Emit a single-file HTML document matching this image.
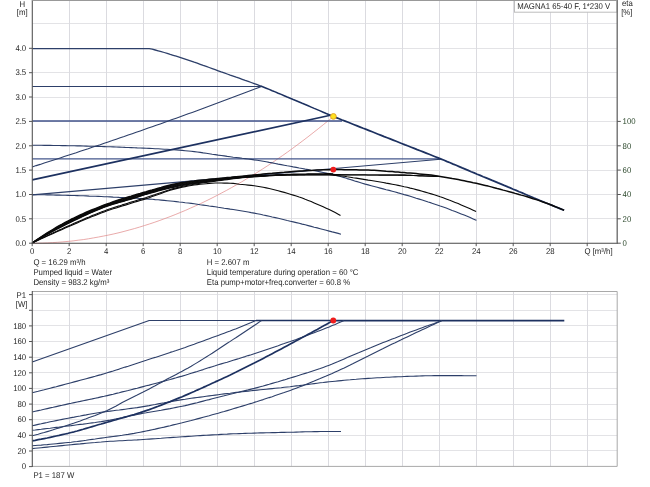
<!DOCTYPE html>
<html lang="en"><head><meta charset="utf-8"><title>MAGNA1 65-40 F pump curve</title>
<style>html,body{margin:0;padding:0;background:#fff;}body{width:650px;height:487px;overflow:hidden;font-family:"Liberation Sans",Arial,sans-serif;}svg{display:block;}</style>
</head><body>
<svg width="650" height="487" viewBox="0 0 650 487" font-family="'Liberation Sans', Arial, sans-serif" font-size="7.8" fill="#262626" text-rendering="geometricPrecision">
<rect width="650" height="487" fill="#fff"/>
<path d="M32.2,218.5H617.2 M32.2,194.5H617.2 M32.2,170.5H617.2 M32.2,145.5H617.2 M32.2,121.5H617.2 M32.2,97.5H617.2 M32.2,72.5H617.2 M32.2,48.5H617.2 M32.2,23.5H617.2 M32.2,450.5H617.2 M32.2,435.5H617.2 M32.2,419.5H617.2 M32.2,404.5H617.2 M32.2,388.5H617.2 M32.2,372.5H617.2 M32.2,357.5H617.2 M32.2,341.5H617.2 M32.2,325.5H617.2 M32.2,310.5H617.2 M32.2,294.5H617.2" stroke="#e3e3e6" stroke-width="1" fill="none"/>
<path d="M69.5,0.5V243 M69.5,291.5V466.5 M106.5,0.5V243 M106.5,291.5V466.5 M143.5,0.5V243 M143.5,291.5V466.5 M180.5,0.5V243 M180.5,291.5V466.5 M217.5,0.5V243 M217.5,291.5V466.5 M254.5,0.5V243 M254.5,291.5V466.5 M291.5,0.5V243 M291.5,291.5V466.5 M328.5,0.5V243 M328.5,291.5V466.5 M365.5,0.5V243 M365.5,291.5V466.5 M402.5,0.5V243 M402.5,291.5V466.5 M439.5,0.5V243 M439.5,291.5V466.5 M476.5,0.5V243 M476.5,291.5V466.5 M513.5,0.5V243 M513.5,291.5V466.5 M550.5,0.5V243 M550.5,291.5V466.5 M587.5,0.5V243 M587.5,291.5V466.5" stroke="#dbdbe0" stroke-width="1" fill="none"/>
<path d="M32.2,243.2 L37.3,243.2 L42.4,243.1 L47.5,242.9 L52.6,242.6 L57.7,242.3 L62.8,241.9 L68.0,241.4 L73.1,240.9 L78.2,240.2 L83.3,239.6 L88.4,238.8 L93.5,237.9 L98.6,237.0 L103.7,236.0 L108.8,235.0 L113.9,233.9 L119.0,232.7 L124.1,231.4 L129.2,230.0 L134.4,228.6 L139.5,227.1 L144.6,225.5 L149.7,223.9 L154.8,222.2 L159.9,220.4 L165.0,218.5 L170.1,216.6 L175.2,214.6 L180.3,212.5 L185.4,210.4 L190.5,208.1 L195.7,205.8 L200.8,203.5 L205.9,201.0 L211.0,198.5 L216.1,195.9 L221.2,193.2 L226.3,190.5 L231.4,187.7 L236.5,184.8 L241.6,181.9 L246.7,178.8 L251.8,175.7 L256.9,172.6 L262.1,169.3 L267.2,166.0 L272.3,162.6 L277.4,159.1 L282.5,155.6 L287.6,152.0 L292.7,148.3 L297.8,144.5 L302.9,140.7 L308.0,136.8 L313.1,132.8 L318.2,128.8 L323.3,124.7 L328.5,120.5 L333.6,116.2" fill="none" stroke="#e08585" stroke-width="0.7" stroke-linejoin="round" />
<path d="M32.2,86.5 L260.8,86.5" fill="none" stroke="#2d3f69" stroke-width="1.0" stroke-linejoin="round" />
<path d="M32.2,120.9 L342.0,120.9" fill="none" stroke="#40528a" stroke-width="1.5" stroke-linejoin="round" />
<path d="M32.2,158.9 L440.5,158.9" fill="none" stroke="#45578c" stroke-width="1.3" stroke-linejoin="round" />
<path d="M32.2,166.9 L36.2,165.6 L40.2,164.4 L44.2,163.1 L48.2,161.8 L52.2,160.5 L56.2,159.2 L60.2,157.9 L64.2,156.6 L68.2,155.3 L72.2,154.0 L76.2,152.7 L80.2,151.3 L84.2,150.0 L88.2,148.7 L92.2,147.3 L96.2,146.0 L100.2,144.7 L104.2,143.3 L108.2,141.9 L112.2,140.6 L116.2,139.2 L120.2,137.8 L124.2,136.5 L128.2,135.1 L132.2,133.7 L136.2,132.3 L140.2,130.9 L144.2,129.5 L148.2,128.1 L152.2,126.7 L156.2,125.3 L160.2,123.9 L164.2,122.5 L168.2,121.0 L172.2,119.6 L176.2,118.2 L180.2,116.7 L184.2,115.3 L188.2,113.8 L192.2,112.4 L196.2,110.9 L200.2,109.5 L204.2,108.0 L208.2,106.5 L212.2,105.0 L216.2,103.5 L220.2,102.1 L224.2,100.6 L228.2,99.1 L232.2,97.6 L236.2,96.1 L240.2,94.5 L244.2,93.0 L248.2,91.5 L252.2,90.0 L256.2,88.4 L260.2,86.9 L261.5,86.4" fill="none" stroke="#2d3f69" stroke-width="1.1" stroke-linejoin="round" />
<path d="M32.2,194.9 L440.5,159.2" fill="none" stroke="#2d3f69" stroke-width="1.1" stroke-linejoin="round" />
<path d="M32.2,145.3 L35.2,145.3 L38.2,145.3 L41.2,145.3 L44.2,145.4 L47.2,145.4 L50.2,145.4 L53.2,145.5 L56.2,145.5 L59.2,145.5 L62.2,145.6 L65.2,145.6 L68.2,145.7 L71.2,145.7 L74.2,145.8 L77.2,145.9 L80.2,145.9 L83.2,146.0 L86.2,146.1 L89.2,146.2 L92.2,146.3 L95.2,146.4 L98.2,146.4 L101.2,146.5 L104.2,146.6 L107.2,146.7 L110.2,146.8 L113.2,146.9 L116.2,147.0 L119.2,147.1 L122.2,147.2 L125.2,147.4 L128.2,147.5 L131.2,147.6 L134.2,147.7 L137.2,147.9 L140.2,148.0 L143.2,148.1 L146.2,148.3 L149.2,148.4 L152.2,148.5 L155.2,148.7 L158.2,148.8 L161.2,149.0 L164.2,149.2 L167.2,149.3 L170.2,149.5 L173.2,149.7 L176.2,149.9 L179.2,150.1 L182.2,150.4 L185.2,150.7 L188.2,151.0 L191.2,151.3 L194.2,151.6 L197.2,152.0 L200.2,152.4 L203.2,152.9 L206.2,153.3 L209.2,153.7 L212.2,154.2 L215.2,154.6 L218.2,155.1 L221.2,155.5 L224.2,155.9 L227.2,156.4 L230.2,156.8 L233.2,157.2 L236.2,157.5 L239.2,157.9 L242.2,158.3 L245.2,158.6 L248.2,159.0 L251.2,159.4 L254.2,159.9 L257.2,160.3 L260.2,160.8 L263.2,161.3 L266.2,161.8 L269.2,162.4 L272.2,162.9 L275.2,163.5 L278.2,164.1 L281.2,164.6 L284.2,165.2 L287.2,165.8 L290.2,166.3 L293.2,166.9 L296.2,167.4 L299.2,168.0 L302.2,168.5 L305.2,169.1 L308.2,169.6 L311.2,170.2 L314.2,170.7 L317.2,171.3 L320.2,171.9 L323.2,172.5 L326.2,173.1 L329.2,173.7 L332.2,174.4 L335.2,175.1 L338.2,175.9 L341.2,176.7 L344.2,177.6 L347.2,178.6 L350.2,179.5 L353.2,180.4 L356.2,181.4 L359.2,182.3 L362.2,183.2 L365.2,184.1 L368.2,184.9 L371.2,185.7 L374.2,186.5 L377.2,187.3 L380.2,188.1 L383.2,188.9 L386.2,189.7 L389.2,190.4 L392.2,191.2 L395.2,192.0 L398.2,192.9 L401.2,193.7 L404.2,194.6 L407.2,195.4 L410.2,196.3 L413.2,197.2 L416.2,198.2 L419.2,199.1 L422.2,200.0 L425.2,201.0 L428.2,202.0 L431.2,202.9 L434.2,203.9 L437.2,204.9 L440.2,206.0 L443.2,207.0 L446.2,208.1 L449.2,209.2 L452.2,210.4 L455.2,211.5 L458.2,212.7 L461.2,213.9 L464.2,215.1 L467.2,216.3 L470.2,217.6 L473.2,218.9 L476.2,220.2 L476.5,220.3" fill="none" stroke="#2d3f69" stroke-width="1.1" stroke-linejoin="round" />
<path d="M32.2,194.6 L35.2,194.6 L38.2,194.7 L41.2,194.7 L44.2,194.8 L47.2,194.9 L50.2,194.9 L53.2,195.0 L56.2,195.1 L59.2,195.1 L62.2,195.2 L65.2,195.3 L68.2,195.4 L71.2,195.5 L74.2,195.5 L77.2,195.6 L80.2,195.7 L83.2,195.8 L86.2,195.9 L89.2,196.1 L92.2,196.2 L95.2,196.3 L98.2,196.4 L101.2,196.5 L104.2,196.7 L107.2,196.8 L110.2,196.9 L113.2,197.1 L116.2,197.2 L119.2,197.4 L122.2,197.5 L125.2,197.7 L128.2,197.8 L131.2,198.0 L134.2,198.2 L137.2,198.3 L140.2,198.5 L143.2,198.7 L146.2,198.9 L149.2,199.1 L152.2,199.3 L155.2,199.6 L158.2,199.8 L161.2,200.1 L164.2,200.4 L167.2,200.7 L170.2,201.0 L173.2,201.3 L176.2,201.6 L179.2,202.0 L182.2,202.3 L185.2,202.7 L188.2,203.0 L191.2,203.4 L194.2,203.8 L197.2,204.2 L200.2,204.7 L203.2,205.1 L206.2,205.5 L209.2,206.0 L212.2,206.4 L215.2,206.8 L218.2,207.3 L221.2,207.7 L224.2,208.2 L227.2,208.6 L230.2,209.1 L233.2,209.5 L236.2,210.0 L239.2,210.5 L242.2,211.0 L245.2,211.5 L248.2,212.0 L251.2,212.6 L254.2,213.1 L257.2,213.7 L260.2,214.3 L263.2,215.0 L266.2,215.6 L269.2,216.3 L272.2,217.0 L275.2,217.6 L278.2,218.3 L281.2,219.0 L284.2,219.7 L287.2,220.5 L290.2,221.2 L293.2,221.9 L296.2,222.6 L299.2,223.3 L302.2,224.1 L305.2,224.8 L308.2,225.6 L311.2,226.4 L314.2,227.2 L317.2,227.9 L320.2,228.7 L323.2,229.5 L326.2,230.3 L329.2,231.1 L332.2,231.9 L335.2,232.6 L338.2,233.4 L341.0,234.2" fill="none" stroke="#2d3f69" stroke-width="1.1" stroke-linejoin="round" />
<path d="M32.2,48.6 L35.2,48.6 L38.2,48.6 L41.2,48.6 L44.2,48.6 L47.2,48.6 L50.2,48.6 L53.2,48.6 L56.2,48.6 L59.2,48.6 L62.2,48.6 L65.2,48.6 L68.2,48.6 L71.2,48.6 L74.2,48.6 L77.2,48.6 L80.2,48.6 L83.2,48.6 L86.2,48.6 L89.2,48.6 L92.2,48.6 L95.2,48.6 L98.2,48.6 L101.2,48.6 L104.2,48.6 L107.2,48.6 L110.2,48.6 L113.2,48.6 L116.2,48.6 L119.2,48.6 L122.2,48.6 L125.2,48.6 L128.2,48.6 L131.2,48.6 L134.2,48.6 L137.2,48.6 L140.2,48.6 L143.2,48.6 L146.2,48.6 L149.2,48.7 L152.2,49.2 L155.2,50.0 L158.2,50.8 L161.2,51.6 L164.2,52.5 L167.2,53.4 L170.2,54.4 L173.2,55.3 L176.2,56.2 L179.2,57.1 L182.2,58.1 L185.2,59.1 L188.2,60.1 L191.2,61.1 L194.2,62.2 L197.2,63.2 L200.2,64.3 L203.2,65.4 L206.2,66.4 L209.2,67.5 L212.2,68.6 L215.2,69.7 L218.2,70.8 L221.2,71.9 L224.2,72.9 L227.2,74.0 L230.2,75.1 L233.2,76.1 L236.2,77.2 L239.2,78.2 L242.2,79.3 L245.2,80.4 L248.2,81.4 L251.2,82.5 L254.2,83.6 L257.2,84.7 L260.2,85.8" fill="none" stroke="#2d3f69" stroke-width="1.3" stroke-linejoin="round" />
<path d="M260.2,85.8 L263.2,87.0 L266.2,88.2 L269.2,89.4 L272.2,90.7 L275.2,91.9 L278.2,93.2 L281.2,94.4 L284.2,95.7 L287.2,97.0 L290.2,98.2 L293.2,99.5 L296.2,100.7 L299.2,102.0 L302.2,103.3 L305.2,104.5 L308.2,105.8 L311.2,107.1 L314.2,108.4 L317.2,109.6 L320.2,110.9 L323.2,112.2 L326.2,113.5 L329.2,114.7 L332.2,116.0 L333.2,116.4" fill="none" stroke="#1d3160" stroke-width="1.5" stroke-linejoin="round" />
<path d="M333.2,116.4 L336.2,117.6 L339.2,118.8 L342.2,120.0 L345.2,121.1 L348.2,122.3 L351.2,123.5 L354.2,124.7 L357.2,125.9 L360.2,127.1 L363.2,128.3 L366.2,129.4 L369.2,130.6 L372.2,131.8 L375.2,133.0 L378.2,134.2 L381.2,135.4 L384.2,136.6 L387.2,137.7 L390.2,138.9 L393.2,140.1 L396.2,141.3 L399.2,142.5 L402.2,143.7 L405.2,144.9 L408.2,146.0 L411.2,147.2 L414.2,148.4 L417.2,149.6 L420.2,150.7 L423.2,151.9 L426.2,153.1 L429.2,154.3 L432.2,155.5 L435.2,156.7 L438.2,157.9 L441.2,159.1 L444.2,160.3 L447.2,161.6 L450.2,162.8 L453.2,164.1 L456.2,165.3 L459.2,166.6 L462.2,167.9 L465.2,169.1 L468.2,170.4 L471.2,171.7 L474.2,172.9 L477.2,174.2 L480.2,175.4 L483.2,176.7 L486.2,177.9 L489.2,179.1 L492.2,180.4 L495.2,181.6 L498.2,182.9 L501.2,184.1 L504.2,185.4 L507.2,186.6 L510.2,187.9 L513.2,189.2 L516.2,190.4 L519.2,191.7 L522.2,192.9 L525.2,194.2 L528.2,195.5 L531.2,196.7 L534.2,198.0 L537.2,199.2 L540.2,200.5 L543.2,201.7 L546.2,203.0 L549.2,204.2 L552.2,205.4 L555.2,206.7 L558.2,207.9 L561.2,209.1 L564.1,210.3" fill="none" stroke="#1d3160" stroke-width="1.7" stroke-linejoin="round" />
<path d="M32.2,179.9 L330.5,115.3" fill="none" stroke="#1d3160" stroke-width="1.6" stroke-linejoin="round" />
<path d="M32.2,243.0 L35.2,241.0 L38.2,239.0 L41.2,237.0 L44.2,235.1 L47.2,233.2 L50.2,231.4 L53.2,229.6 L56.2,227.8 L59.2,226.1 L62.2,224.5 L65.2,222.9 L68.2,221.3 L71.2,219.8 L74.2,218.3 L77.2,216.9 L80.2,215.5 L83.2,214.1 L86.2,212.8 L89.2,211.5 L92.2,210.2 L95.2,209.0 L98.2,207.8 L101.2,206.6 L104.2,205.5 L107.2,204.3 L110.2,203.3 L113.2,202.3 L116.2,201.3 L119.2,200.3 L122.2,199.3 L125.2,198.4 L128.2,197.5 L131.2,196.6 L134.2,195.7 L137.2,194.8 L140.2,193.9 L143.2,193.0 L146.2,192.2 L149.2,191.3 L152.2,190.4 L155.2,189.6 L158.2,188.7 L161.2,187.9 L164.2,187.0 L167.2,186.3 L170.2,185.5 L173.2,184.8 L176.2,184.2 L179.2,183.6 L182.2,183.1 L185.2,182.7 L188.2,182.2 L191.2,181.8 L194.2,181.4 L197.2,181.1 L200.2,180.7 L203.2,180.4 L206.2,180.0 L209.2,179.7 L212.2,179.4 L215.2,179.1 L218.2,178.8 L221.2,178.5 L224.2,178.2 L227.2,177.9 L230.2,177.6 L233.2,177.3 L236.2,177.0 L239.2,176.7 L242.2,176.4 L245.2,176.1 L248.2,175.9 L251.2,175.6 L254.2,175.3 L257.2,175.0 L260.2,174.8 L261.0,174.7" fill="none" stroke="#0a0a0a" stroke-width="1.05" stroke-linejoin="round" />
<path d="M32.2,243.0 L35.2,241.0 L38.2,239.1 L41.2,237.2 L44.2,235.3 L47.2,233.5 L50.2,231.7 L53.2,229.9 L56.2,228.2 L59.2,226.5 L62.2,224.9 L65.2,223.3 L68.2,221.8 L71.2,220.3 L74.2,218.8 L77.2,217.4 L80.2,216.0 L83.2,214.6 L86.2,213.2 L89.2,211.9 L92.2,210.6 L95.2,209.4 L98.2,208.2 L101.2,207.0 L104.2,205.9 L107.2,204.8 L110.2,203.7 L113.2,202.7 L116.2,201.7 L119.2,200.8 L122.2,199.9 L125.2,198.9 L128.2,198.0 L131.2,197.1 L134.2,196.2 L137.2,195.3 L140.2,194.4 L143.2,193.5 L146.2,192.6 L149.2,191.8 L152.2,190.9 L155.2,190.1 L158.2,189.2 L161.2,188.4 L164.2,187.6 L167.2,186.8 L170.2,186.1 L173.2,185.4 L176.2,184.7 L179.2,184.2 L182.2,183.6 L185.2,183.2 L188.2,182.7 L191.2,182.3 L194.2,181.9 L197.2,181.5 L200.2,181.1 L203.2,180.8 L206.2,180.4 L209.2,180.1 L212.2,179.8 L215.2,179.4 L218.2,179.1 L221.2,178.8 L224.2,178.4 L227.2,178.1 L230.2,177.8 L233.2,177.5 L236.2,177.2 L239.2,176.9 L242.2,176.7 L245.2,176.4 L248.2,176.1 L251.2,175.9 L254.2,175.6 L257.2,175.4 L260.2,175.1 L261.0,175.0" fill="none" stroke="#0a0a0a" stroke-width="1.05" stroke-linejoin="round" />
<path d="M32.2,243.0 L35.2,241.1 L38.2,239.2 L41.2,237.4 L44.2,235.5 L47.2,233.7 L50.2,232.0 L53.2,230.3 L56.2,228.6 L59.2,226.9 L62.2,225.3 L65.2,223.8 L68.2,222.3 L71.2,220.8 L74.2,219.3 L77.2,217.9 L80.2,216.4 L83.2,215.1 L86.2,213.7 L89.2,212.4 L92.2,211.1 L95.2,209.8 L98.2,208.6 L101.2,207.4 L104.2,206.3 L107.2,205.2 L110.2,204.1 L113.2,203.1 L116.2,202.2 L119.2,201.3 L122.2,200.4 L125.2,199.5 L128.2,198.6 L131.2,197.7 L134.2,196.8 L137.2,195.8 L140.2,194.9 L143.2,194.0 L146.2,193.1 L149.2,192.3 L152.2,191.4 L155.2,190.5 L158.2,189.7 L161.2,188.9 L164.2,188.1 L167.2,187.3 L170.2,186.6 L173.2,185.9 L176.2,185.3 L179.2,184.7 L182.2,184.2 L185.2,183.7 L188.2,183.2 L191.2,182.8 L194.2,182.3 L197.2,181.9 L200.2,181.6 L203.2,181.2 L206.2,180.8 L209.2,180.5 L212.2,180.1 L215.2,179.8 L218.2,179.4 L221.2,179.1 L224.2,178.7 L227.2,178.4 L230.2,178.1 L233.2,177.8 L236.2,177.5 L239.2,177.2 L242.2,177.0 L245.2,176.7 L248.2,176.5 L251.2,176.3 L254.2,176.1 L257.2,175.9 L260.2,175.8 L263.2,175.6 L266.2,175.4 L269.2,175.2 L272.2,175.0 L275.2,174.8 L278.2,174.7 L281.2,174.5 L284.2,174.4 L287.2,174.3 L290.2,174.2 L293.2,174.1 L296.2,174.1 L299.2,174.0 L302.2,173.9 L305.2,173.9 L308.2,173.8 L311.2,173.8 L314.2,173.8 L317.2,173.7 L320.2,173.7 L323.2,173.7 L326.2,173.6 L329.2,173.6 L332.2,173.7 L333.2,173.7" fill="none" stroke="#0a0a0a" stroke-width="1.05" stroke-linejoin="round" />
<path d="M32.2,243.0 L35.2,241.1 L38.2,239.3 L41.2,237.5 L44.2,235.7 L47.2,234.0 L50.2,232.3 L53.2,230.6 L56.2,229.0 L59.2,227.4 L62.2,225.8 L65.2,224.2 L68.2,222.7 L71.2,221.2 L74.2,219.8 L77.2,218.3 L80.2,216.9 L83.2,215.5 L86.2,214.1 L89.2,212.8 L92.2,211.5 L95.2,210.2 L98.2,209.0 L101.2,207.8 L104.2,206.7 L107.2,205.6 L110.2,204.6 L113.2,203.6 L116.2,202.7 L119.2,201.7 L122.2,200.9 L125.2,200.0 L128.2,199.1 L131.2,198.2 L134.2,197.3 L137.2,196.4 L140.2,195.4 L143.2,194.5 L146.2,193.6 L149.2,192.7 L152.2,191.9 L155.2,191.0 L158.2,190.2 L161.2,189.4 L164.2,188.6 L167.2,187.8 L170.2,187.1 L173.2,186.4 L176.2,185.8 L179.2,185.2 L182.2,184.7 L185.2,184.2 L188.2,183.7 L191.2,183.2 L194.2,182.8 L197.2,182.4 L200.2,182.0 L203.2,181.6 L206.2,181.2 L209.2,180.8 L212.2,180.5 L215.2,180.1 L218.2,179.7 L221.2,179.4 L224.2,179.0 L227.2,178.7 L230.2,178.3 L233.2,178.0 L236.2,177.7 L239.2,177.4 L242.2,177.2 L245.2,177.0 L248.2,176.7 L251.2,176.5 L254.2,176.4 L257.2,176.2 L260.2,176.0 L263.2,175.8 L266.2,175.6 L269.2,175.5 L272.2,175.3 L275.2,175.1 L278.2,175.0 L281.2,174.9 L284.2,174.7 L287.2,174.6 L290.2,174.6 L293.2,174.5 L296.2,174.5 L299.2,174.4 L302.2,174.4 L305.2,174.4 L308.2,174.3 L311.2,174.3 L314.2,174.3 L317.2,174.3 L320.2,174.2 L323.2,174.2 L326.2,174.2 L329.2,174.2 L332.2,174.3 L335.2,174.4 L338.2,174.5 L340.6,174.5" fill="none" stroke="#0a0a0a" stroke-width="1.05" stroke-linejoin="round" />
<path d="M32.2,243.0 L35.2,241.2 L38.2,239.4 L41.2,237.7 L44.2,235.9 L47.2,234.2 L50.2,232.6 L53.2,230.9 L56.2,229.3 L59.2,227.7 L62.2,226.2 L65.2,224.6 L68.2,223.1 L71.2,221.7 L74.2,220.2 L77.2,218.8 L80.2,217.3 L83.2,215.9 L86.2,214.6 L89.2,213.2 L92.2,211.9 L95.2,210.6 L98.2,209.4 L101.2,208.2 L104.2,207.1 L107.2,206.0 L110.2,205.0 L113.2,204.0 L116.2,203.1 L119.2,202.2 L122.2,201.3 L125.2,200.4 L128.2,199.6 L131.2,198.7 L134.2,197.8 L137.2,196.9 L140.2,195.9 L143.2,194.9 L146.2,194.0 L149.2,193.2 L152.2,192.3 L155.2,191.5 L158.2,190.6 L161.2,189.8 L164.2,189.1 L167.2,188.3 L170.2,187.6 L173.2,186.9 L176.2,186.3 L179.2,185.7 L182.2,185.1 L185.2,184.6 L188.2,184.1 L191.2,183.6 L194.2,183.2 L197.2,182.8 L200.2,182.4 L203.2,182.0 L206.2,181.6 L209.2,181.2 L212.2,180.8 L215.2,180.4 L218.2,180.0 L221.2,179.6 L224.2,179.2 L227.2,178.9 L230.2,178.5 L233.2,178.2 L236.2,177.9 L239.2,177.6 L242.2,177.3 L245.2,177.1 L248.2,176.9 L251.2,176.7 L254.2,176.5 L257.2,176.3 L260.2,176.1 L263.2,176.0 L266.2,175.8 L269.2,175.6 L272.2,175.4 L275.2,175.3 L278.2,175.1 L281.2,175.0 L284.2,174.9 L287.2,174.8 L290.2,174.7 L293.2,174.7 L296.2,174.7 L299.2,174.6 L302.2,174.6 L305.2,174.6 L308.2,174.5 L311.2,174.5 L314.2,174.5 L317.2,174.5 L320.2,174.5 L323.2,174.5 L326.2,174.5 L329.2,174.5 L332.2,174.5 L335.2,174.6 L338.2,174.7 L341.2,174.8 L344.2,174.8 L347.2,174.8 L350.2,174.8 L353.2,174.8 L356.2,174.8 L359.2,174.8 L362.2,174.8 L365.2,174.8 L368.2,174.9 L371.2,174.9 L374.2,174.9 L377.2,174.9 L380.2,174.9 L383.2,174.9 L386.2,175.0 L389.2,175.0 L392.2,175.0 L395.2,175.0 L398.2,175.1 L401.2,175.1 L404.2,175.1 L407.2,175.2 L410.2,175.3 L413.2,175.4 L416.2,175.6 L419.2,175.7 L422.2,175.8 L425.2,175.9 L428.2,176.0 L431.2,176.2 L434.2,176.3 L437.2,176.4 L440.0,176.5" fill="none" stroke="#0a0a0a" stroke-width="1.05" stroke-linejoin="round" />
<path d="M32.2,243.0 L35.2,241.2 L38.2,239.5 L41.2,237.8 L44.2,236.1 L47.2,234.4 L50.2,232.8 L53.2,231.1 L56.2,229.5 L59.2,228.0 L62.2,226.4 L65.2,224.9 L68.2,223.4 L71.2,222.0 L74.2,220.5 L77.2,219.1 L80.2,217.6 L83.2,216.2 L86.2,214.9 L89.2,213.5 L92.2,212.2 L95.2,210.9 L98.2,209.7 L101.2,208.5 L104.2,207.3 L107.2,206.2 L110.2,205.2 L113.2,204.3 L116.2,203.4 L119.2,202.5 L122.2,201.6 L125.2,200.8 L128.2,199.9 L131.2,199.1 L134.2,198.2 L137.2,197.2 L140.2,196.2 L143.2,195.2 L146.2,194.3 L149.2,193.5 L152.2,192.6 L155.2,191.8 L158.2,191.0 L161.2,190.2 L164.2,189.4 L167.2,188.7 L170.2,187.9 L173.2,187.3 L176.2,186.6 L179.2,186.0 L182.2,185.5 L185.2,184.9 L188.2,184.4 L191.2,184.0 L194.2,183.5 L197.2,183.1 L200.2,182.6 L203.2,182.2 L206.2,181.8 L209.2,181.4 L212.2,181.0 L215.2,180.6 L218.2,180.2 L221.2,179.8 L224.2,179.4 L227.2,179.0 L230.2,178.6 L233.2,178.3 L236.2,178.0 L239.2,177.7 L242.2,177.4 L245.2,177.2 L248.2,177.0 L251.2,176.8 L254.2,176.6 L257.2,176.4 L260.2,176.2 L263.2,176.1 L266.2,175.9 L269.2,175.7 L272.2,175.5 L275.2,175.4 L278.2,175.2 L281.2,175.1 L284.2,175.0 L287.2,174.9 L290.2,174.8 L293.2,174.8 L296.2,174.8 L299.2,174.7 L302.2,174.7 L305.2,174.7 L308.2,174.7 L311.2,174.6 L314.2,174.6 L317.2,174.6 L320.2,174.6 L323.2,174.6 L326.2,174.6 L329.2,174.6 L332.2,174.7 L335.2,174.8 L338.2,174.9 L341.2,174.9 L344.2,174.9 L347.2,174.9 L350.2,175.0 L353.2,175.0 L356.2,175.0 L359.2,175.0 L362.2,175.0 L365.2,175.0 L368.2,175.0 L371.2,175.0 L374.2,175.0 L377.2,175.0 L380.2,175.1 L383.2,175.1 L386.2,175.1 L389.2,175.1 L392.2,175.1 L395.2,175.1 L398.2,175.2 L401.2,175.2 L404.2,175.2 L407.2,175.3 L410.2,175.4 L413.2,175.5 L416.2,175.6 L419.2,175.8 L422.2,175.9 L425.2,176.0 L428.2,176.1 L431.2,176.2 L434.2,176.3 L437.2,176.4 L439.5,176.5" fill="none" stroke="#0a0a0a" stroke-width="1.2" stroke-linejoin="round" />
<path d="M32.2,243.0 L35.2,241.6 L38.2,240.2 L41.2,238.8 L44.2,237.4 L47.2,236.1 L50.2,234.7 L53.2,233.4 L56.2,232.0 L59.2,230.7 L62.2,229.4 L65.2,228.1 L68.2,226.8 L71.2,225.5 L74.2,224.2 L77.2,222.9 L80.2,221.6 L83.2,220.3 L86.2,219.1 L89.2,217.8 L92.2,216.6 L95.2,215.4 L98.2,214.2 L101.2,213.0 L104.2,211.9 L107.2,210.8 L110.2,209.8 L113.2,208.8 L116.2,207.9 L119.2,206.9 L122.2,206.0 L125.2,205.1 L128.2,204.2 L131.2,203.2 L134.2,202.3 L137.2,201.4 L140.2,200.5 L143.2,199.6 L146.2,198.7 L149.2,197.7 L152.2,196.6 L155.2,195.5 L158.2,194.5 L161.2,193.4 L164.2,192.3 L167.2,191.3 L170.2,190.3 L173.2,189.4 L176.2,188.6 L179.2,187.9 L182.2,187.2 L185.2,186.6 L188.2,186.0 L191.2,185.5 L194.2,185.0 L197.2,184.6 L200.2,184.3 L203.2,184.0 L206.2,183.7 L209.2,183.4 L212.2,183.2 L215.2,183.0 L218.2,183.0 L221.2,183.0 L224.2,183.1 L227.2,183.1 L230.2,183.2 L233.2,183.4 L236.2,183.8 L239.2,184.2 L242.2,184.5 L245.2,184.8 L248.2,185.1 L251.2,185.4 L254.2,185.8 L257.2,186.2 L260.2,186.7 L263.2,187.3 L266.2,187.9 L269.2,188.5 L272.2,189.2 L275.2,190.0 L278.2,190.8 L281.2,191.6 L284.2,192.4 L287.2,193.3 L290.2,194.2 L293.2,195.1 L296.2,196.0 L299.2,197.1 L302.2,198.1 L305.2,199.3 L308.2,200.4 L311.2,201.6 L314.2,202.9 L317.2,204.2 L320.2,205.5 L323.2,206.8 L326.2,208.2 L329.2,209.6 L332.2,211.0 L335.2,212.6 L338.2,214.2 L340.5,215.5" fill="none" stroke="#0a0a0a" stroke-width="1.1" stroke-linejoin="round" />
<path d="M32.2,243.0 L35.2,241.5 L38.2,240.0 L41.2,238.6 L44.2,237.1 L47.2,235.7 L50.2,234.2 L53.2,232.8 L56.2,231.4 L59.2,230.0 L62.2,228.7 L65.2,227.3 L68.2,226.0 L71.2,224.7 L74.2,223.3 L77.2,222.0 L80.2,220.7 L83.2,219.4 L86.2,218.1 L89.2,216.9 L92.2,215.6 L95.2,214.4 L98.2,213.2 L101.2,212.1 L104.2,210.9 L107.2,209.8 L110.2,208.8 L113.2,207.8 L116.2,206.8 L119.2,205.9 L122.2,204.9 L125.2,204.0 L128.2,203.1 L131.2,202.1 L134.2,201.2 L137.2,200.3 L140.2,199.4 L143.2,198.5 L146.2,197.6 L149.2,196.6 L152.2,195.6 L155.2,194.6 L158.2,193.5 L161.2,192.5 L164.2,191.5 L167.2,190.5 L170.2,189.5 L173.2,188.6 L176.2,187.8 L179.2,187.1 L182.2,186.4 L185.2,185.8 L188.2,185.2 L191.2,184.7 L194.2,184.2 L197.2,183.7 L200.2,183.3 L203.2,182.8 L206.2,182.4 L209.2,182.0 L212.2,181.6 L215.2,181.2 L218.2,180.8 L221.2,180.4 L224.2,180.0 L227.2,179.6 L230.2,179.1 L233.2,178.8 L236.2,178.4 L239.2,178.1 L242.2,177.8 L245.2,177.5 L248.2,177.3 L251.2,177.0 L254.2,176.8 L257.2,176.6 L260.2,176.4 L263.2,176.2 L266.2,176.0 L269.2,175.8 L272.2,175.7 L275.2,175.5 L278.2,175.3 L281.2,175.2 L284.2,175.1 L287.2,175.0 L290.2,175.0 L293.2,175.0 L296.2,175.0 L299.2,175.0 L302.2,175.0 L305.2,175.0 L308.2,175.0 L311.2,175.0 L314.2,175.0 L317.2,175.0 L320.2,175.0 L323.2,175.0 L326.2,175.0 L329.2,175.0 L332.2,175.2 L335.2,175.4 L338.2,175.7 L341.2,176.0 L344.2,176.3 L347.2,176.8 L350.2,177.2 L353.2,177.7 L356.2,178.1 L359.2,178.6 L362.2,179.1 L365.2,179.6 L368.2,180.1 L371.2,180.5 L374.2,181.0 L377.2,181.5 L380.2,182.0 L383.2,182.5 L386.2,183.1 L389.2,183.6 L392.2,184.2 L395.2,184.8 L398.2,185.4 L401.2,186.0 L404.2,186.7 L407.2,187.3 L410.2,188.1 L413.2,188.8 L416.2,189.6 L419.2,190.4 L422.2,191.2 L425.2,192.1 L428.2,193.0 L431.2,193.9 L434.2,194.8 L437.2,195.7 L440.2,196.8 L443.2,197.8 L446.2,198.9 L449.2,200.1 L452.2,201.2 L455.2,202.4 L458.2,203.6 L461.2,204.9 L464.2,206.2 L467.2,207.5 L470.2,208.8 L473.2,210.2 L476.1,211.6" fill="none" stroke="#0a0a0a" stroke-width="1.1" stroke-linejoin="round" />
<path d="M32.2,243.0 L35.2,240.9 L38.2,238.9 L41.2,236.9 L44.2,234.9 L47.2,233.0 L50.2,231.1 L53.2,229.3 L56.2,227.5 L59.2,225.7 L62.2,224.1 L65.2,222.4 L68.2,220.9 L71.2,219.3 L74.2,217.9 L77.2,216.4 L80.2,215.0 L83.2,213.7 L86.2,212.3 L89.2,211.0 L92.2,209.8 L95.2,208.6 L98.2,207.4 L101.2,206.2 L104.2,205.0 L107.2,203.9 L110.2,202.9 L113.2,201.8 L116.2,200.8 L119.2,199.8 L122.2,198.8 L125.2,197.9 L128.2,197.0 L131.2,196.1 L134.2,195.1 L137.2,194.2 L140.2,193.4 L143.2,192.5 L146.2,191.7 L149.2,190.8 L152.2,190.0 L155.2,189.1 L158.2,188.2 L161.2,187.4 L164.2,186.5 L167.2,185.7 L170.2,185.0 L173.2,184.3 L176.2,183.7 L179.2,183.1 L182.2,182.6 L185.2,182.2 L188.2,181.7 L191.2,181.3 L194.2,181.0 L197.2,180.6 L200.2,180.3 L203.2,180.0 L206.2,179.7 L209.2,179.3 L212.2,179.0 L215.2,178.8 L218.2,178.5 L221.2,178.2 L224.2,177.9 L227.2,177.6 L230.2,177.4 L233.2,177.1 L236.2,176.8 L239.2,176.5 L242.2,176.2 L245.2,175.9 L248.2,175.6 L251.2,175.3 L254.2,175.0 L257.2,174.7 L260.2,174.4 L263.2,174.1 L266.2,173.8 L269.2,173.5 L272.2,173.3 L275.2,173.0 L278.2,172.7 L281.2,172.4 L284.2,172.2 L287.2,171.9 L290.2,171.7 L293.2,171.5 L296.2,171.3 L299.2,171.1 L302.2,170.9 L305.2,170.7 L308.2,170.5 L311.2,170.4 L314.2,170.2 L317.2,170.1 L320.2,170.0 L323.2,169.8 L326.2,169.8 L329.2,169.7 L332.2,169.6 L335.2,169.6 L338.2,169.6 L341.2,169.6 L344.2,169.7 L347.2,169.7 L350.2,169.7 L353.2,169.8 L356.2,169.8 L359.2,169.9 L362.2,169.9 L365.2,170.0 L368.2,170.1 L371.2,170.2 L374.2,170.3 L377.2,170.5 L380.2,170.7 L383.2,170.9 L386.2,171.2 L389.2,171.4 L392.2,171.6 L395.2,171.9 L398.2,172.1 L401.2,172.4 L404.2,172.6 L407.2,172.9 L410.2,173.1 L413.2,173.3 L416.2,173.6 L419.2,173.9 L422.2,174.2 L425.2,174.5 L428.2,174.8 L431.2,175.1 L434.2,175.5 L437.2,175.9 L440.2,176.4 L443.2,176.9 L446.2,177.4 L449.2,177.9 L452.2,178.5 L455.2,179.0 L458.2,179.6 L461.2,180.2 L464.2,180.8 L467.2,181.4 L470.2,182.0 L473.2,182.7 L476.2,183.3 L479.2,184.0 L482.2,184.7 L485.2,185.4 L488.2,186.1 L491.2,186.9 L494.2,187.7 L497.2,188.5 L500.2,189.2 L503.2,190.1 L506.2,190.9 L509.2,191.7 L512.2,192.5 L515.2,193.4 L518.2,194.2 L521.2,195.1 L524.2,195.9 L527.2,196.8 L530.2,197.7 L533.2,198.7 L536.2,199.6 L539.2,200.6 L542.2,201.7 L545.2,202.7 L548.2,203.8 L551.2,205.0 L554.2,206.2 L557.2,207.4 L560.2,208.6 L563.2,209.9 L564.1,210.3" fill="none" stroke="#0a0a0a" stroke-width="1.5" stroke-linejoin="round" />
<circle cx="333.3" cy="169.6" r="2.9" fill="#ee1c1c"/>
<circle cx="333.4" cy="116.4" r="2.85" fill="#ffe21f" stroke="#dfa02a" stroke-width="0.95"/>
<path d="M32.2,362.0 L149.2,320.5 L258.0,320.5" fill="none" stroke="#2d3f69" stroke-width="1.2" stroke-linejoin="round" />
<path d="M256.0,320.5 L333.2,320.5" fill="none" stroke="#1d3160" stroke-width="1.45" stroke-linejoin="round" />
<path d="M333.2,320.5 L564.3,320.5" fill="none" stroke="#1d3160" stroke-width="1.75" stroke-linejoin="round" />
<path d="M32.2,392.8 L35.2,392.0 L38.2,391.3 L41.2,390.5 L44.2,389.8 L47.2,389.0 L50.2,388.2 L53.2,387.4 L56.2,386.7 L59.2,385.9 L62.2,385.1 L65.2,384.3 L68.2,383.5 L71.2,382.7 L74.2,381.9 L77.2,381.1 L80.2,380.3 L83.2,379.5 L86.2,378.7 L89.2,377.9 L92.2,377.1 L95.2,376.3 L98.2,375.4 L101.2,374.6 L104.2,373.7 L107.2,372.8 L110.2,371.9 L113.2,371.0 L116.2,370.0 L119.2,369.1 L122.2,368.1 L125.2,367.1 L128.2,366.2 L131.2,365.2 L134.2,364.2 L137.2,363.2 L140.2,362.2 L143.2,361.2 L146.2,360.3 L149.2,359.3 L152.2,358.3 L155.2,357.4 L158.2,356.4 L161.2,355.4 L164.2,354.4 L167.2,353.4 L170.2,352.4 L173.2,351.5 L176.2,350.5 L179.2,349.4 L182.2,348.4 L185.2,347.4 L188.2,346.3 L191.2,345.2 L194.2,344.2 L197.2,343.1 L200.2,342.0 L203.2,340.9 L206.2,339.8 L209.2,338.7 L212.2,337.6 L215.2,336.5 L218.2,335.4 L221.2,334.3 L224.2,333.2 L227.2,332.1 L230.2,331.0 L233.2,329.8 L236.2,328.7 L239.2,327.5 L242.2,326.3 L245.2,325.0 L248.2,323.8 L251.2,322.6 L254.2,321.3 L256.1,320.5" fill="none" stroke="#2d3f69" stroke-width="1.1" stroke-linejoin="round" />
<path d="M32.2,435.8 L35.2,435.0 L38.2,434.2 L41.2,433.3 L44.2,432.5 L47.2,431.6 L50.2,430.7 L53.2,429.8 L56.2,428.8 L59.2,427.9 L62.2,426.9 L65.2,426.0 L68.2,425.0 L71.2,424.0 L74.2,423.0 L77.2,421.9 L80.2,420.9 L83.2,419.8 L86.2,418.8 L89.2,417.6 L92.2,416.5 L95.2,415.4 L98.2,414.2 L101.2,412.9 L104.2,411.7 L107.2,410.4 L110.2,408.9 L113.2,407.4 L116.2,405.9 L119.2,404.2 L122.2,402.6 L125.2,401.0 L128.2,399.4 L131.2,397.9 L134.2,396.4 L137.2,395.0 L140.2,393.5 L143.2,392.1 L146.2,390.5 L149.2,388.9 L152.2,387.3 L155.2,385.7 L158.2,384.0 L161.2,382.4 L164.2,380.8 L167.2,379.1 L170.2,377.6 L173.2,376.0 L176.2,374.4 L179.2,372.8 L182.2,371.2 L185.2,369.5 L188.2,367.9 L191.2,366.2 L194.2,364.4 L197.2,362.6 L200.2,360.8 L203.2,358.9 L206.2,357.0 L209.2,355.1 L212.2,353.2 L215.2,351.2 L218.2,349.3 L221.2,347.3 L224.2,345.3 L227.2,343.3 L230.2,341.4 L233.2,339.4 L236.2,337.5 L239.2,335.5 L242.2,333.5 L245.2,331.5 L248.2,329.5 L251.2,327.5 L254.2,325.5 L257.2,323.5 L260.2,321.4 L261.6,320.5" fill="none" stroke="#2d3f69" stroke-width="1.1" stroke-linejoin="round" />
<path d="M32.2,412.0 L35.2,411.3 L38.2,410.6 L41.2,410.0 L44.2,409.3 L47.2,408.6 L50.2,407.9 L53.2,407.3 L56.2,406.6 L59.2,405.9 L62.2,405.3 L65.2,404.6 L68.2,403.9 L71.2,403.3 L74.2,402.6 L77.2,402.0 L80.2,401.4 L83.2,400.7 L86.2,400.1 L89.2,399.5 L92.2,398.9 L95.2,398.2 L98.2,397.6 L101.2,396.9 L104.2,396.3 L107.2,395.6 L110.2,394.9 L113.2,394.2 L116.2,393.4 L119.2,392.7 L122.2,391.9 L125.2,391.2 L128.2,390.5 L131.2,389.7 L134.2,388.9 L137.2,388.2 L140.2,387.4 L143.2,386.6 L146.2,385.8 L149.2,385.1 L152.2,384.3 L155.2,383.5 L158.2,382.7 L161.2,381.9 L164.2,381.1 L167.2,380.3 L170.2,379.5 L173.2,378.6 L176.2,377.8 L179.2,376.9 L182.2,376.1 L185.2,375.2 L188.2,374.3 L191.2,373.3 L194.2,372.4 L197.2,371.5 L200.2,370.5 L203.2,369.6 L206.2,368.6 L209.2,367.6 L212.2,366.7 L215.2,365.8 L218.2,364.8 L221.2,363.9 L224.2,363.0 L227.2,362.2 L230.2,361.2 L233.2,360.3 L236.2,359.4 L239.2,358.5 L242.2,357.5 L245.2,356.6 L248.2,355.6 L251.2,354.7 L254.2,353.7 L257.2,352.7 L260.2,351.7 L263.2,350.7 L266.2,349.7 L269.2,348.7 L272.2,347.7 L275.2,346.7 L278.2,345.7 L281.2,344.6 L284.2,343.6 L287.2,342.5 L290.2,341.5 L293.2,340.4 L296.2,339.4 L299.2,338.3 L302.2,337.2 L305.2,336.1 L308.2,334.9 L311.2,333.8 L314.2,332.7 L317.2,331.6 L320.2,330.4 L323.2,329.3 L326.2,328.1 L329.2,326.9 L332.2,325.6 L335.2,324.4 L338.2,323.1 L341.2,321.8 L344.0,320.5" fill="none" stroke="#2d3f69" stroke-width="1.1" stroke-linejoin="round" />
<path d="M32.2,430.3 L35.2,430.0 L38.2,429.6 L41.2,429.3 L44.2,428.9 L47.2,428.5 L50.2,428.2 L53.2,427.8 L56.2,427.4 L59.2,427.1 L62.2,426.7 L65.2,426.3 L68.2,425.9 L71.2,425.6 L74.2,425.2 L77.2,424.8 L80.2,424.4 L83.2,424.1 L86.2,423.7 L89.2,423.3 L92.2,422.9 L95.2,422.5 L98.2,422.0 L101.2,421.6 L104.2,421.1 L107.2,420.6 L110.2,420.1 L113.2,419.5 L116.2,418.9 L119.2,418.2 L122.2,417.6 L125.2,416.9 L128.2,416.3 L131.2,415.7 L134.2,415.1 L137.2,414.5 L140.2,413.9 L143.2,413.3 L146.2,412.8 L149.2,412.2 L152.2,411.7 L155.2,411.2 L158.2,410.7 L161.2,410.2 L164.2,409.6 L167.2,409.1 L170.2,408.6 L173.2,408.0 L176.2,407.4 L179.2,406.8 L182.2,406.2 L185.2,405.6 L188.2,404.9 L191.2,404.1 L194.2,403.4 L197.2,402.7 L200.2,401.9 L203.2,401.1 L206.2,400.3 L209.2,399.6 L212.2,398.8 L215.2,398.0 L218.2,397.3 L221.2,396.5 L224.2,395.8 L227.2,395.0 L230.2,394.2 L233.2,393.5 L236.2,392.7 L239.2,392.0 L242.2,391.3 L245.2,390.6 L248.2,389.9 L251.2,389.1 L254.2,388.4 L257.2,387.6 L260.2,386.8 L263.2,386.0 L266.2,385.1 L269.2,384.3 L272.2,383.4 L275.2,382.5 L278.2,381.7 L281.2,380.8 L284.2,379.9 L287.2,378.9 L290.2,378.0 L293.2,377.1 L296.2,376.2 L299.2,375.3 L302.2,374.3 L305.2,373.4 L308.2,372.5 L311.2,371.5 L314.2,370.5 L317.2,369.5 L320.2,368.5 L323.2,367.4 L326.2,366.3 L329.2,365.2 L332.2,364.0 L335.2,362.7 L338.2,361.5 L341.2,360.2 L344.2,358.9 L347.2,357.6 L350.2,356.3 L353.2,355.0 L356.2,353.7 L359.2,352.5 L362.2,351.2 L365.2,349.9 L368.2,348.7 L371.2,347.5 L374.2,346.2 L377.2,345.0 L380.2,343.8 L383.2,342.6 L386.2,341.4 L389.2,340.2 L392.2,339.0 L395.2,337.9 L398.2,336.7 L401.2,335.5 L404.2,334.4 L407.2,333.3 L410.2,332.1 L413.2,331.0 L416.2,329.9 L419.2,328.8 L422.2,327.7 L425.2,326.6 L428.2,325.6 L431.2,324.5 L434.2,323.4 L437.2,322.2 L440.2,321.1 L441.8,320.5" fill="none" stroke="#2d3f69" stroke-width="1.1" stroke-linejoin="round" />
<path d="M32.2,425.8 L35.2,425.1 L38.2,424.4 L41.2,423.8 L44.2,423.1 L47.2,422.5 L50.2,421.8 L53.2,421.2 L56.2,420.6 L59.2,420.0 L62.2,419.4 L65.2,418.8 L68.2,418.2 L71.2,417.6 L74.2,417.1 L77.2,416.5 L80.2,416.0 L83.2,415.4 L86.2,414.9 L89.2,414.3 L92.2,413.8 L95.2,413.3 L98.2,412.8 L101.2,412.3 L104.2,411.9 L107.2,411.5 L110.2,411.1 L113.2,410.7 L116.2,410.3 L119.2,410.0 L122.2,409.6 L125.2,409.2 L128.2,408.8 L131.2,408.4 L134.2,408.0 L137.2,407.6 L140.2,407.1 L143.2,406.6 L146.2,406.1 L149.2,405.6 L152.2,405.0 L155.2,404.5 L158.2,403.9 L161.2,403.3 L164.2,402.8 L167.2,402.2 L170.2,401.6 L173.2,401.1 L176.2,400.6 L179.2,400.1 L182.2,399.6 L185.2,399.2 L188.2,398.7 L191.2,398.3 L194.2,397.9 L197.2,397.5 L200.2,397.1 L203.2,396.7 L206.2,396.3 L209.2,395.9 L212.2,395.5 L215.2,395.1 L218.2,394.7 L221.2,394.3 L224.2,393.9 L227.2,393.5 L230.2,393.2 L233.2,392.8 L236.2,392.4 L239.2,392.1 L242.2,391.7 L245.2,391.4 L248.2,391.1 L251.2,390.7 L254.2,390.4 L257.2,390.1 L260.2,389.8 L263.2,389.5 L266.2,389.2 L269.2,388.9 L272.2,388.6 L275.2,388.3 L278.2,388.0 L281.2,387.7 L284.2,387.3 L287.2,387.0 L290.2,386.7 L293.2,386.3 L296.2,385.9 L299.2,385.6 L302.2,385.2 L305.2,384.8 L308.2,384.4 L311.2,384.0 L314.2,383.6 L317.2,383.2 L320.2,382.8 L323.2,382.5 L326.2,382.1 L329.2,381.8 L332.2,381.5 L335.2,381.2 L338.2,380.9 L341.2,380.6 L344.2,380.3 L347.2,380.0 L350.2,379.8 L353.2,379.5 L356.2,379.3 L359.2,379.0 L362.2,378.8 L365.2,378.6 L368.2,378.4 L371.2,378.2 L374.2,378.0 L377.2,377.8 L380.2,377.7 L383.2,377.5 L386.2,377.3 L389.2,377.2 L392.2,377.0 L395.2,376.9 L398.2,376.8 L401.2,376.7 L404.2,376.5 L407.2,376.4 L410.2,376.3 L413.2,376.2 L416.2,376.1 L419.2,376.0 L422.2,375.9 L425.2,375.8 L428.2,375.7 L431.2,375.7 L434.2,375.6 L437.2,375.6 L440.2,375.6 L443.2,375.6 L446.2,375.6 L449.2,375.6 L452.2,375.6 L455.2,375.6 L458.2,375.6 L461.2,375.6 L464.2,375.7 L467.2,375.7 L470.2,375.7 L473.2,375.8 L476.2,375.8 L476.5,375.8" fill="none" stroke="#2d3f69" stroke-width="1.1" stroke-linejoin="round" />
<path d="M32.2,445.7 L35.2,445.5 L38.2,445.3 L41.2,445.1 L44.2,444.8 L47.2,444.6 L50.2,444.3 L53.2,444.0 L56.2,443.7 L59.2,443.4 L62.2,443.1 L65.2,442.8 L68.2,442.5 L71.2,442.2 L74.2,441.8 L77.2,441.5 L80.2,441.1 L83.2,440.7 L86.2,440.3 L89.2,439.8 L92.2,439.4 L95.2,439.0 L98.2,438.5 L101.2,438.1 L104.2,437.7 L107.2,437.3 L110.2,436.9 L113.2,436.5 L116.2,436.1 L119.2,435.7 L122.2,435.3 L125.2,434.8 L128.2,434.4 L131.2,433.9 L134.2,433.4 L137.2,432.8 L140.2,432.2 L143.2,431.6 L146.2,431.0 L149.2,430.4 L152.2,429.7 L155.2,429.1 L158.2,428.4 L161.2,427.7 L164.2,427.1 L167.2,426.4 L170.2,425.7 L173.2,424.9 L176.2,424.2 L179.2,423.5 L182.2,422.8 L185.2,422.0 L188.2,421.2 L191.2,420.5 L194.2,419.7 L197.2,418.9 L200.2,418.1 L203.2,417.3 L206.2,416.5 L209.2,415.7 L212.2,414.8 L215.2,414.0 L218.2,413.2 L221.2,412.3 L224.2,411.5 L227.2,410.6 L230.2,409.7 L233.2,408.8 L236.2,407.9 L239.2,407.0 L242.2,406.1 L245.2,405.2 L248.2,404.3 L251.2,403.4 L254.2,402.4 L257.2,401.5 L260.2,400.5 L263.2,399.6 L266.2,398.6 L269.2,397.6 L272.2,396.7 L275.2,395.6 L278.2,394.6 L281.2,393.6 L284.2,392.6 L287.2,391.5 L290.2,390.4 L293.2,389.3 L296.2,388.2 L299.2,387.1 L302.2,385.9 L305.2,384.7 L308.2,383.5 L311.2,382.3 L314.2,381.1 L317.2,379.8 L320.2,378.6 L323.2,377.3 L326.2,376.1 L329.2,374.8 L332.2,373.5 L335.2,372.1 L338.2,370.7 L341.2,369.3 L344.2,367.9 L347.2,366.4 L350.2,365.0 L353.2,363.5 L356.2,361.9 L359.2,360.4 L362.2,358.9 L365.2,357.4 L368.2,356.0 L371.2,354.5 L374.2,353.0 L377.2,351.5 L380.2,350.0 L383.2,348.6 L386.2,347.1 L389.2,345.6 L392.2,344.1 L395.2,342.7 L398.2,341.2 L401.2,339.8 L404.2,338.3 L407.2,336.9 L410.2,335.5 L413.2,334.1 L416.2,332.6 L419.2,331.2 L422.2,329.8 L425.2,328.4 L428.2,327.0 L431.2,325.6 L434.2,324.2 L437.2,322.8 L440.2,321.4 L442.0,320.5" fill="none" stroke="#2d3f69" stroke-width="1.1" stroke-linejoin="round" />
<path d="M32.2,448.6 L35.2,448.3 L38.2,448.0 L41.2,447.7 L44.2,447.4 L47.2,447.1 L50.2,446.8 L53.2,446.5 L56.2,446.2 L59.2,445.9 L62.2,445.6 L65.2,445.3 L68.2,445.0 L71.2,444.7 L74.2,444.4 L77.2,444.1 L80.2,443.9 L83.2,443.6 L86.2,443.3 L89.2,443.0 L92.2,442.7 L95.2,442.5 L98.2,442.2 L101.2,442.0 L104.2,441.7 L107.2,441.5 L110.2,441.3 L113.2,441.2 L116.2,441.0 L119.2,440.8 L122.2,440.7 L125.2,440.5 L128.2,440.3 L131.2,440.2 L134.2,440.0 L137.2,439.9 L140.2,439.7 L143.2,439.5 L146.2,439.3 L149.2,439.1 L152.2,438.9 L155.2,438.7 L158.2,438.5 L161.2,438.3 L164.2,438.0 L167.2,437.8 L170.2,437.6 L173.2,437.4 L176.2,437.2 L179.2,437.0 L182.2,436.8 L185.2,436.6 L188.2,436.4 L191.2,436.2 L194.2,436.0 L197.2,435.8 L200.2,435.6 L203.2,435.4 L206.2,435.3 L209.2,435.1 L212.2,434.9 L215.2,434.7 L218.2,434.6 L221.2,434.4 L224.2,434.2 L227.2,434.1 L230.2,433.9 L233.2,433.8 L236.2,433.7 L239.2,433.6 L242.2,433.5 L245.2,433.4 L248.2,433.3 L251.2,433.2 L254.2,433.1 L257.2,433.0 L260.2,432.9 L263.2,432.9 L266.2,432.8 L269.2,432.7 L272.2,432.6 L275.2,432.6 L278.2,432.5 L281.2,432.4 L284.2,432.4 L287.2,432.3 L290.2,432.2 L293.2,432.2 L296.2,432.1 L299.2,432.0 L302.2,431.9 L305.2,431.8 L308.2,431.8 L311.2,431.7 L314.2,431.6 L317.2,431.6 L320.2,431.5 L323.2,431.5 L326.2,431.5 L329.2,431.5 L332.2,431.5 L335.2,431.5 L338.2,431.5 L341.0,431.5" fill="none" stroke="#2d3f69" stroke-width="1.1" stroke-linejoin="round" />
<path d="M32.2,440.8 L35.2,440.3 L38.2,439.7 L41.2,439.2 L44.2,438.6 L47.2,438.0 L50.2,437.3 L53.2,436.7 L56.2,436.0 L59.2,435.4 L62.2,434.7 L65.2,434.0 L68.2,433.3 L71.2,432.5 L74.2,431.8 L77.2,431.0 L80.2,430.1 L83.2,429.3 L86.2,428.4 L89.2,427.5 L92.2,426.6 L95.2,425.7 L98.2,424.8 L101.2,424.0 L104.2,423.1 L107.2,422.2 L110.2,421.4 L113.2,420.5 L116.2,419.7 L119.2,418.8 L122.2,418.0 L125.2,417.1 L128.2,416.2 L131.2,415.3 L134.2,414.5 L137.2,413.5 L140.2,412.6 L143.2,411.6 L146.2,410.6 L149.2,409.6 L152.2,408.5 L155.2,407.4 L158.2,406.3 L161.2,405.1 L164.2,403.9 L167.2,402.8 L170.2,401.6 L173.2,400.3 L176.2,399.1 L179.2,397.9 L182.2,396.7 L185.2,395.4 L188.2,394.1 L191.2,392.8 L194.2,391.5 L197.2,390.1 L200.2,388.8 L203.2,387.4 L206.2,386.1 L209.2,384.7 L212.2,383.3 L215.2,381.9 L218.2,380.6 L221.2,379.2 L224.2,377.8 L227.2,376.4 L230.2,375.0 L233.2,373.5 L236.2,372.1 L239.2,370.6 L242.2,369.1 L245.2,367.6 L248.2,366.1 L251.2,364.6 L254.2,363.1 L257.2,361.5 L260.2,360.0 L263.2,358.4 L266.2,356.8 L269.2,355.3 L272.2,353.7 L275.2,352.1 L278.2,350.5 L281.2,348.9 L284.2,347.3 L287.2,345.7 L290.2,344.1 L293.2,342.4 L296.2,340.8 L299.2,339.2 L302.2,337.6 L305.2,335.9 L308.2,334.3 L311.2,332.7 L314.2,331.0 L317.2,329.4 L320.2,327.7 L323.2,326.1 L326.2,324.4 L329.2,322.7 L332.2,321.1 L333.2,320.5" fill="none" stroke="#1d3160" stroke-width="1.7" stroke-linejoin="round" />
<circle cx="333.3" cy="320.5" r="2.9" fill="#ee1c1c"/>
<rect x="514.5" y="0.5" width="102.5" height="11.7" fill="#fff" stroke="#bdbdbd" stroke-width="1"/>
<path d="M32.300000000000004,0V243.6" stroke="#555" stroke-width="1.1" fill="none"/>
<path d="M31.700000000000003,243.3H617.8000000000001" stroke="#484848" stroke-width="1.1" fill="none"/>
<path d="M617.2,0V243.6" stroke="#666" stroke-width="1.3" fill="none"/>
<path d="M32.2,0.5H617.2" stroke="#999" stroke-width="1" fill="none"/>
<path d="M29.000000000000004,243.2H32.2 M29.000000000000004,218.8H32.2 M29.000000000000004,194.5H32.2 M29.000000000000004,170.1H32.2 M29.000000000000004,145.8H32.2 M29.000000000000004,121.4H32.2 M29.000000000000004,97.0H32.2 M29.000000000000004,72.7H32.2 M29.000000000000004,48.3H32.2 M32.2,243V246.2 M69.2,243V246.2 M106.2,243V246.2 M143.2,243V246.2 M180.2,243V246.2 M217.2,243V246.2 M254.2,243V246.2 M291.2,243V246.2 M328.2,243V246.2 M365.2,243V246.2 M402.2,243V246.2 M439.2,243V246.2 M476.2,243V246.2 M513.2,243V246.2 M550.2,243V246.2 M587.2,243V246.2 M617.2,243.2H620.8000000000001 M617.2,218.8H620.8000000000001 M617.2,194.5H620.8000000000001 M617.2,170.1H620.8000000000001 M617.2,145.8H620.8000000000001 M617.2,121.4H620.8000000000001" stroke="#555" stroke-width="1" fill="none"/>
<path d="M32.2,291.5H617.2V466.4H32.2" stroke="#a9a9a9" stroke-width="1" fill="none"/>
<path d="M32.300000000000004,291V467" stroke="#555" stroke-width="1.1" fill="none"/>
<path d="M29.000000000000004,466.6H32.2 M29.000000000000004,451.0H32.2 M29.000000000000004,435.3H32.2 M29.000000000000004,419.7H32.2 M29.000000000000004,404.1H32.2 M29.000000000000004,388.4H32.2 M29.000000000000004,372.8H32.2 M29.000000000000004,357.2H32.2 M29.000000000000004,341.5H32.2 M29.000000000000004,325.9H32.2 M29.000000000000004,310.3H32.2 M29.000000000000004,294.6H32.2" stroke="#555" stroke-width="1" fill="none"/>
<g opacity="0.999">
<text transform="translate(26.2,245.9) scale(0.9286,1)" font-size="8.4" text-anchor="end">0.0</text>
<text transform="translate(26.2,221.5) scale(0.9286,1)" font-size="8.4" text-anchor="end">0.5</text>
<text transform="translate(26.2,197.2) scale(0.9286,1)" font-size="8.4" text-anchor="end">1.0</text>
<text transform="translate(26.2,172.8) scale(0.9286,1)" font-size="8.4" text-anchor="end">1.5</text>
<text transform="translate(26.2,148.5) scale(0.9286,1)" font-size="8.4" text-anchor="end">2.0</text>
<text transform="translate(26.2,124.1) scale(0.9286,1)" font-size="8.4" text-anchor="end">2.5</text>
<text transform="translate(26.2,99.7) scale(0.9286,1)" font-size="8.4" text-anchor="end">3.0</text>
<text transform="translate(26.2,75.4) scale(0.9286,1)" font-size="8.4" text-anchor="end">3.5</text>
<text transform="translate(26.2,51.0) scale(0.9286,1)" font-size="8.4" text-anchor="end">4.0</text>
<text transform="translate(22.2,6.5) scale(0.9286,1)" font-size="8.4" text-anchor="middle">H</text>
<text transform="translate(22.2,15.3) scale(0.9286,1)" font-size="8.4" text-anchor="middle">[m]</text>
<text transform="translate(32.2,254.3) scale(0.9286,1)" font-size="8.4" text-anchor="middle">0</text>
<text transform="translate(69.2,254.3) scale(0.9286,1)" font-size="8.4" text-anchor="middle">2</text>
<text transform="translate(106.2,254.3) scale(0.9286,1)" font-size="8.4" text-anchor="middle">4</text>
<text transform="translate(143.2,254.3) scale(0.9286,1)" font-size="8.4" text-anchor="middle">6</text>
<text transform="translate(180.2,254.3) scale(0.9286,1)" font-size="8.4" text-anchor="middle">8</text>
<text transform="translate(217.2,254.3) scale(0.9286,1)" font-size="8.4" text-anchor="middle">10</text>
<text transform="translate(254.2,254.3) scale(0.9286,1)" font-size="8.4" text-anchor="middle">12</text>
<text transform="translate(291.2,254.3) scale(0.9286,1)" font-size="8.4" text-anchor="middle">14</text>
<text transform="translate(328.2,254.3) scale(0.9286,1)" font-size="8.4" text-anchor="middle">16</text>
<text transform="translate(365.2,254.3) scale(0.9286,1)" font-size="8.4" text-anchor="middle">18</text>
<text transform="translate(402.2,254.3) scale(0.9286,1)" font-size="8.4" text-anchor="middle">20</text>
<text transform="translate(439.2,254.3) scale(0.9286,1)" font-size="8.4" text-anchor="middle">22</text>
<text transform="translate(476.2,254.3) scale(0.9286,1)" font-size="8.4" text-anchor="middle">24</text>
<text transform="translate(513.2,254.3) scale(0.9286,1)" font-size="8.4" text-anchor="middle">26</text>
<text transform="translate(550.2,254.3) scale(0.9286,1)" font-size="8.4" text-anchor="middle">28</text>
<text transform="translate(584.5,254.3) scale(0.9286,1)" font-size="8.4">Q [m³/h]</text>
<text transform="translate(622.6,245.9) scale(0.9286,1)" font-size="8.4" fill="#2b472b">0</text>
<text transform="translate(622.6,221.5) scale(0.9286,1)" font-size="8.4" fill="#2b472b">20</text>
<text transform="translate(622.6,197.2) scale(0.9286,1)" font-size="8.4" fill="#2b472b">40</text>
<text transform="translate(622.6,172.8) scale(0.9286,1)" font-size="8.4" fill="#2b472b">60</text>
<text transform="translate(622.6,148.5) scale(0.9286,1)" font-size="8.4" fill="#2b472b">80</text>
<text transform="translate(622.6,124.1) scale(0.9286,1)" font-size="8.4" fill="#2b472b">100</text>
<text transform="translate(622.0,6.3) scale(0.9286,1)" font-size="8.4">eta</text>
<text transform="translate(621.2,14.7) scale(0.9286,1)" font-size="8.4">[%]</text>
<text transform="translate(26.2,469.3) scale(0.9286,1)" font-size="8.4" text-anchor="end">0</text>
<text transform="translate(26.2,453.7) scale(0.9286,1)" font-size="8.4" text-anchor="end">20</text>
<text transform="translate(26.2,438.0) scale(0.9286,1)" font-size="8.4" text-anchor="end">40</text>
<text transform="translate(26.2,422.4) scale(0.9286,1)" font-size="8.4" text-anchor="end">60</text>
<text transform="translate(26.2,406.8) scale(0.9286,1)" font-size="8.4" text-anchor="end">80</text>
<text transform="translate(26.2,391.1) scale(0.9286,1)" font-size="8.4" text-anchor="end">100</text>
<text transform="translate(26.2,375.5) scale(0.9286,1)" font-size="8.4" text-anchor="end">120</text>
<text transform="translate(26.2,359.9) scale(0.9286,1)" font-size="8.4" text-anchor="end">140</text>
<text transform="translate(26.2,344.2) scale(0.9286,1)" font-size="8.4" text-anchor="end">160</text>
<text transform="translate(26.2,328.6) scale(0.9286,1)" font-size="8.4" text-anchor="end">180</text>
<text transform="translate(21.2,297.5) scale(0.9286,1)" font-size="8.4" text-anchor="middle">P1</text>
<text transform="translate(21.6,306.5) scale(0.9286,1)" font-size="8.4" text-anchor="middle">[W]</text>
<text transform="translate(33.4,264.8) scale(0.9286,1)" font-size="8.4">Q = 16.29 m³/h</text>
<text transform="translate(33.4,274.8) scale(0.9286,1)" font-size="8.4">Pumped liquid = Water</text>
<text transform="translate(33.4,285.3) scale(0.9286,1)" font-size="8.4">Density = 983.2 kg/m³</text>
<text transform="translate(206.8,264.8) scale(0.9286,1)" font-size="8.4">H = 2.607 m</text>
<text transform="translate(206.8,274.8) scale(0.9286,1)" font-size="8.4">Liquid temperature during operation = 60 °C</text>
<text transform="translate(206.8,285.3) scale(0.9286,1)" font-size="8.4">Eta pump+motor+freq.converter = 60.8 %</text>
<text transform="translate(33.4,478.3) scale(0.9286,1)" font-size="8.4">P1 = 187 W</text>
<text transform="translate(517.2,8.6) scale(0.9286,1)" font-size="8.4">MAGNA1 65-40 F, 1*230 V</text>
</g>
</svg>
</body></html>
